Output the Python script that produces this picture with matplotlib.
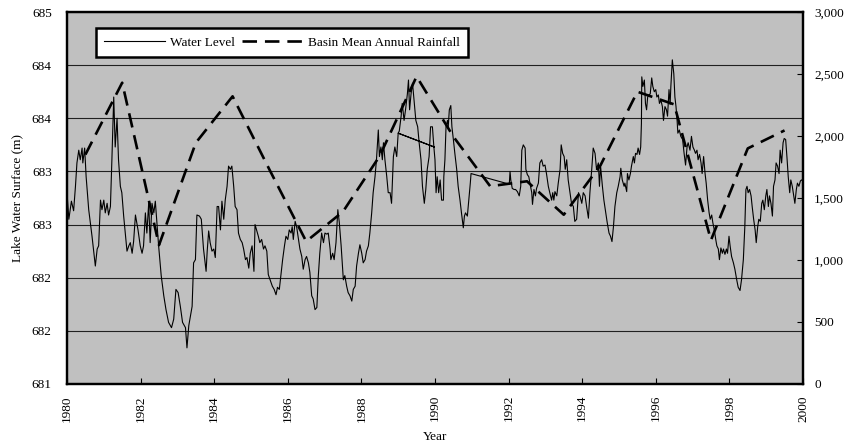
import numpy as np
import matplotlib
matplotlib.use("Agg")
import matplotlib.pyplot as plt
from matplotlib.ticker import FuncFormatter, MultipleLocator

plt.rcParams['font.family'] = ['Liberation Serif', 'DejaVu Serif']

# water level record (decimal year, m); the 1989 block was recorded twice,
# which is why the line doubles back over itself there
level_years = [
    1980.00, 1980.05, 1980.12, 1980.18, 1980.23, 1980.27, 1980.32, 1980.36, 1980.41, 1980.43,
    1980.48, 1980.52, 1980.59, 1980.68, 1980.77, 1980.82, 1980.86, 1980.91, 1980.95, 1981.00,
    1981.04, 1981.09, 1981.13, 1981.18, 1981.22, 1981.27, 1981.31, 1981.36, 1981.40, 1981.45,
    1981.49, 1981.54, 1981.63, 1981.68, 1981.72, 1981.77, 1981.81, 1981.86, 1981.93, 1981.99,
    1982.04, 1982.08, 1982.13, 1982.17, 1982.22, 1982.26, 1982.31, 1982.36, 1982.40, 1982.45,
    1982.49, 1982.56, 1982.63, 1982.69, 1982.76, 1982.84, 1982.90, 1982.96, 1983.02, 1983.08,
    1983.14, 1983.22, 1983.26, 1983.31, 1983.40, 1983.44, 1983.49, 1983.53, 1983.60, 1983.65,
    1983.71, 1983.78, 1983.81, 1983.85, 1983.89, 1983.94, 1983.99, 1984.03, 1984.08, 1984.12,
    1984.17, 1984.21, 1984.26, 1984.30, 1984.35, 1984.39, 1984.44, 1984.48, 1984.53, 1984.57,
    1984.62, 1984.66, 1984.71, 1984.76, 1984.80, 1984.85, 1984.89, 1984.94, 1984.98, 1985.03,
    1985.08, 1985.11, 1985.15, 1985.20, 1985.24, 1985.29, 1985.34, 1985.38, 1985.43, 1985.47,
    1985.52, 1985.58, 1985.63, 1985.68, 1985.72, 1985.77, 1985.82, 1985.86, 1985.91, 1985.95,
    1986.00, 1986.04, 1986.09, 1986.12, 1986.15, 1986.20, 1986.24, 1986.29, 1986.33, 1986.38,
    1986.42, 1986.47, 1986.51, 1986.56, 1986.60, 1986.65, 1986.69, 1986.74, 1986.79, 1986.83,
    1986.87, 1986.92, 1986.97, 1987.01, 1987.06, 1987.10, 1987.15, 1987.17, 1987.22, 1987.26,
    1987.31, 1987.36, 1987.40, 1987.45, 1987.51, 1987.55, 1987.60, 1987.64, 1987.69, 1987.74,
    1987.78, 1987.83, 1987.87, 1987.92, 1987.96, 1988.01, 1988.05, 1988.10, 1988.14, 1988.19,
    1988.23, 1988.28, 1988.32, 1988.37, 1988.41, 1988.46, 1988.49, 1988.53, 1988.57, 1988.60,
    1988.64, 1988.69, 1988.73, 1988.78, 1988.82, 1988.87, 1988.91, 1988.96,
    1989.00, 1989.98, 1989.00,
    1989.03, 1989.08, 1989.11, 1989.16, 1989.20, 1989.25, 1989.28, 1989.31, 1989.35, 1989.39,
    1989.44, 1989.48, 1989.53, 1989.57, 1989.62, 1989.66, 1989.71, 1989.75, 1989.79, 1989.84,
    1989.88, 1989.93, 1989.97, 1990.00, 1990.03, 1990.06, 1990.10, 1990.14, 1990.18, 1990.23,
    1990.24, 1990.27, 1990.30, 1990.34, 1990.36, 1990.39, 1990.43, 1990.46, 1990.50, 1990.54,
    1990.59, 1990.63, 1990.68, 1990.72, 1990.77, 1990.80, 1990.83, 1990.88, 1990.92, 1990.96,
    1990.98, 1992.02, 1992.04, 1992.06, 1992.10, 1992.15, 1992.19, 1992.24, 1992.29, 1992.33,
    1992.36, 1992.40, 1992.45, 1992.47, 1992.51, 1992.55, 1992.58, 1992.63, 1992.65, 1992.69,
    1992.73, 1992.76, 1992.81, 1992.85, 1992.90, 1992.94, 1992.99, 1993.03, 1993.08, 1993.12,
    1993.17, 1993.20, 1993.23, 1993.26, 1993.31, 1993.35, 1993.40, 1993.43, 1993.47, 1993.51,
    1993.54, 1993.58, 1993.62, 1993.67, 1993.71, 1993.76, 1993.80, 1993.85, 1993.90, 1993.94,
    1993.99, 1994.03, 1994.08, 1994.12, 1994.17, 1994.21, 1994.26, 1994.30, 1994.35, 1994.39,
    1994.44, 1994.47, 1994.50, 1994.55, 1994.59, 1994.64, 1994.68, 1994.73, 1994.77, 1994.81,
    1994.85, 1994.89, 1994.94, 1994.98, 1995.03, 1995.05, 1995.09, 1995.14, 1995.16, 1995.21,
    1995.23, 1995.27, 1995.31, 1995.34, 1995.39, 1995.42, 1995.45, 1995.49, 1995.52, 1995.56,
    1995.59, 1995.61, 1995.62, 1995.65, 1995.69, 1995.72, 1995.75, 1995.78, 1995.81, 1995.85,
    1995.89, 1995.92, 1995.96, 1996.00, 1996.03, 1996.07, 1996.10, 1996.14, 1996.18, 1996.21,
    1996.25, 1996.29, 1996.32, 1996.36, 1996.39, 1996.41, 1996.45, 1996.49, 1996.52, 1996.55,
    1996.58, 1996.60, 1996.64, 1996.68, 1996.73, 1996.77, 1996.81, 1996.85, 1996.88, 1996.93,
    1996.97, 1997.01, 1997.05, 1997.08, 1997.12, 1997.15, 1997.19, 1997.23, 1997.26, 1997.30,
    1997.34, 1997.37, 1997.41, 1997.45, 1997.48, 1997.52, 1997.55, 1997.59, 1997.63, 1997.66,
    1997.70, 1997.73, 1997.77, 1997.81, 1997.84, 1997.88, 1997.92, 1997.95, 1997.99, 1998.02,
    1998.06, 1998.11, 1998.15, 1998.20, 1998.24, 1998.29, 1998.33, 1998.38, 1998.42, 1998.45,
    1998.48, 1998.51, 1998.55, 1998.59, 1998.62, 1998.66, 1998.70, 1998.73, 1998.77, 1998.80,
    1998.84, 1998.88, 1998.91, 1998.95, 1998.99, 1999.02, 1999.06, 1999.09, 1999.13, 1999.17,
    1999.20, 1999.24, 1999.27, 1999.31, 1999.35, 1999.38, 1999.42, 1999.46, 1999.49, 1999.53,
    1999.57, 1999.60, 1999.64, 1999.67, 1999.71, 1999.75, 1999.78, 1999.82, 1999.85, 1999.89,
    1999.93, 1999.96, 2000.00,
]
level_m = [
    682.80, 682.55, 682.72, 682.63, 682.86, 683.08, 683.20, 683.11, 683.22, 683.08,
    683.22, 682.95, 682.64, 682.39, 682.11, 682.27, 682.30, 682.73, 682.64, 682.73,
    682.61, 682.70, 682.59, 682.67, 683.11, 683.70, 683.23, 683.50, 683.11, 682.86,
    682.80, 682.58, 682.25, 682.30, 682.33, 682.23, 682.34, 682.59, 682.45, 682.30,
    682.23, 682.30, 682.61, 682.42, 682.70, 682.33, 682.70, 682.61, 682.72, 682.48,
    682.30, 682.02, 681.83, 681.70, 681.58, 681.53, 681.61, 681.89, 681.86, 681.73,
    681.58, 681.53, 681.34, 681.55, 681.73, 682.14, 682.17, 682.59, 682.58, 682.55,
    682.27, 682.06, 682.25, 682.44, 682.33, 682.25, 682.27, 682.19, 682.67, 682.67,
    682.45, 682.72, 682.55, 682.73, 682.86, 683.05, 683.02, 683.05, 682.86, 682.67,
    682.64, 682.42, 682.36, 682.33, 682.27, 682.17, 682.19, 682.09, 682.23, 682.30,
    682.06, 682.50, 682.45, 682.39, 682.33, 682.36, 682.27, 682.30, 682.25, 682.03,
    681.98, 681.92, 681.89, 681.84, 681.91, 681.89, 682.05, 682.17, 682.30, 682.39,
    682.36, 682.45, 682.42, 682.48, 682.36, 682.53, 682.48, 682.36, 682.27, 682.20,
    682.08, 682.17, 682.20, 682.14, 682.05, 681.83, 681.80, 681.70, 681.72, 682.02,
    682.23, 682.42, 682.33, 682.42, 682.41, 682.42, 682.27, 682.17, 682.23, 682.17,
    682.33, 682.64, 682.52, 682.30, 681.98, 682.02, 681.92, 681.86, 681.83, 681.78,
    681.89, 681.92, 682.11, 682.23, 682.31, 682.23, 682.14, 682.17, 682.25, 682.30,
    682.42, 682.61, 682.80, 682.95, 683.11, 683.39, 683.14, 683.23, 683.11, 683.27,
    683.11, 682.95, 682.80, 682.80, 682.70, 683.14, 683.23, 683.14,
    683.36, 683.23, 683.36,
    683.38, 683.52, 683.64, 683.48, 683.58, 683.73, 683.86, 683.58, 683.73, 683.83,
    683.64, 683.48, 683.42, 683.27, 683.11, 682.86, 682.70, 682.83, 683.02, 683.14,
    683.42, 683.42, 683.23, 683.11, 682.80, 682.95, 682.80, 682.92, 682.73, 682.73,
    682.95, 683.11, 683.42, 683.48, 683.42, 683.58, 683.62, 683.42, 683.30, 683.17,
    683.02, 682.86, 682.73, 682.61, 682.47, 682.58, 682.61, 682.58, 682.73, 682.89,
    682.98, 682.88, 683.00, 682.92, 682.84, 682.83, 682.83, 682.81, 682.77, 682.86,
    683.20, 683.25, 683.22, 683.02, 682.97, 682.95, 682.89, 682.80, 682.69, 682.83,
    682.77, 682.84, 682.89, 683.08, 683.11, 683.05, 683.06, 682.98, 682.86, 682.80,
    682.73, 682.80, 682.73, 682.81, 682.77, 682.89, 683.02, 683.25, 683.17, 683.14,
    683.02, 683.11, 682.92, 682.80, 682.70, 682.67, 682.53, 682.55, 682.80, 682.77,
    682.70, 682.80, 682.77, 682.67, 682.56, 682.80, 683.02, 683.22, 683.17, 683.02,
    683.08, 682.86, 683.05, 682.86, 682.73, 682.61, 682.52, 682.42, 682.39, 682.34,
    682.48, 682.67, 682.80, 682.86, 682.95, 683.03, 682.92, 682.86, 682.89, 682.81,
    682.98, 682.92, 682.98, 683.05, 683.14, 683.08, 683.17, 683.16, 683.22, 683.16,
    683.23, 683.45, 683.89, 683.80, 683.86, 683.64, 683.58, 683.70, 683.72, 683.73,
    683.88, 683.80, 683.75, 683.77, 683.70, 683.72, 683.64, 683.67, 683.61, 683.48,
    683.61, 683.58, 683.52, 683.77, 683.63, 683.80, 684.05, 683.92, 683.70, 683.61,
    683.48, 683.36, 683.39, 683.33, 683.30, 683.17, 683.06, 683.23, 683.27, 683.20,
    683.33, 683.23, 683.20, 683.17, 683.20, 683.11, 683.16, 683.08, 682.98, 683.14,
    682.98, 682.89, 682.73, 682.61, 682.55, 682.59, 682.52, 682.45, 682.36, 682.30,
    682.27, 682.17, 682.28, 682.23, 682.27, 682.22, 682.27, 682.23, 682.39, 682.30,
    682.20, 682.14, 682.08, 681.98, 681.91, 681.88, 681.98, 682.17, 682.48, 682.83,
    682.86, 682.80, 682.83, 682.77, 682.67, 682.55, 682.45, 682.33, 682.48, 682.55,
    682.53, 682.70, 682.73, 682.64, 682.77, 682.83, 682.67, 682.77, 682.70, 682.58,
    682.86, 682.92, 683.08, 683.05, 682.98, 683.20, 683.08, 683.27, 683.31, 683.30,
    683.11, 682.95, 682.80, 682.92, 682.86, 682.77, 682.70, 682.83, 682.89, 682.86,
    682.91, 682.92, 682.91,
]

# basin mean annual rainfall, plotted at mid-year
rain_years = [1980.5, 1981.5, 1982.5, 1983.5, 1984.5, 1985.5, 1986.5, 1987.5, 1988.5, 1989.5,
              1990.5, 1991.5, 1992.5, 1993.5, 1994.5, 1995.5, 1996.5, 1997.5, 1998.5, 1999.5]
rain_mm = [1850, 2430, 1120, 1945, 2320, 1730, 1150, 1390, 1840, 2480,
           1995, 1595, 1635, 1365, 1765, 2357, 2255, 1160, 1900, 2045]

year_ticks = list(range(1980, 2001, 2))
rain_ticks = list(range(0, 3001, 500))


def half_up(v, pos):
    # Excel style rounding, 682.5 -> 683
    return f"{int(np.floor(v + 0.5))}"


fig = plt.figure(figsize=(8.47, 4.45), dpi=100)
ax = fig.add_axes([0.0791, 0.1371, 0.8689, 0.8359])
ax.set_facecolor('#c0c0c0')

ax.plot(level_years, level_m, color='black', lw=0.8, label='Water Level', zorder=3)
ax.set_xlim(1980, 2000)
ax.set_ylim(681, 684.5)
ax.yaxis.set_major_locator(MultipleLocator(0.5))
ax.yaxis.set_major_formatter(FuncFormatter(half_up))
ax.set_xticks(year_ticks)
ax.set_xticklabels([str(y) for y in year_ticks], rotation=90)
ax.grid(axis='y', color='#202020', lw=0.8)
ax.set_axisbelow(True)
ax.tick_params(axis='y', length=0, pad=11, labelsize=9.5)
ax.tick_params(axis='x', direction='in', length=4, pad=8, labelsize=9.5)
ax.set_ylabel('Lake Water Surface (m)', fontsize=9.5, labelpad=6)
ax.set_xlabel('Year', fontsize=9.5, labelpad=7)

ax2 = ax.twinx()
rain_line, = ax2.plot(rain_years, rain_mm, color='black', lw=1.9,
                      label='Basin Mean Annual Rainfall', zorder=3)
rain_line.set_dashes((5.5, 3.0))
ax2.set_ylim(0, 3000)
ax2.set_yticks(rain_ticks)
ax2.yaxis.set_major_formatter(FuncFormatter(lambda v, p: f"{int(v):,}"))
ax2.tick_params(axis='y', direction='in', length=4, pad=8, labelsize=9.5)

for a in (ax, ax2):
    for s in a.spines.values():
        s.set_linewidth(1.6)
        s.set_color('black')

handles = [ax.get_lines()[0], rain_line]
leg = ax2.legend(handles, [h.get_label() for h in handles], ncol=2,
                 loc='upper left', bbox_to_anchor=(0.039, 0.957), borderaxespad=0,
                 fontsize=9.5, handlelength=4.6, handletextpad=0.4, columnspacing=0.5,
                 frameon=True, fancybox=False, edgecolor='black', framealpha=1,
                 borderpad=0.65)
leg.get_frame().set_linewidth(1.8)

fig.savefig('out.png', dpi=100)
